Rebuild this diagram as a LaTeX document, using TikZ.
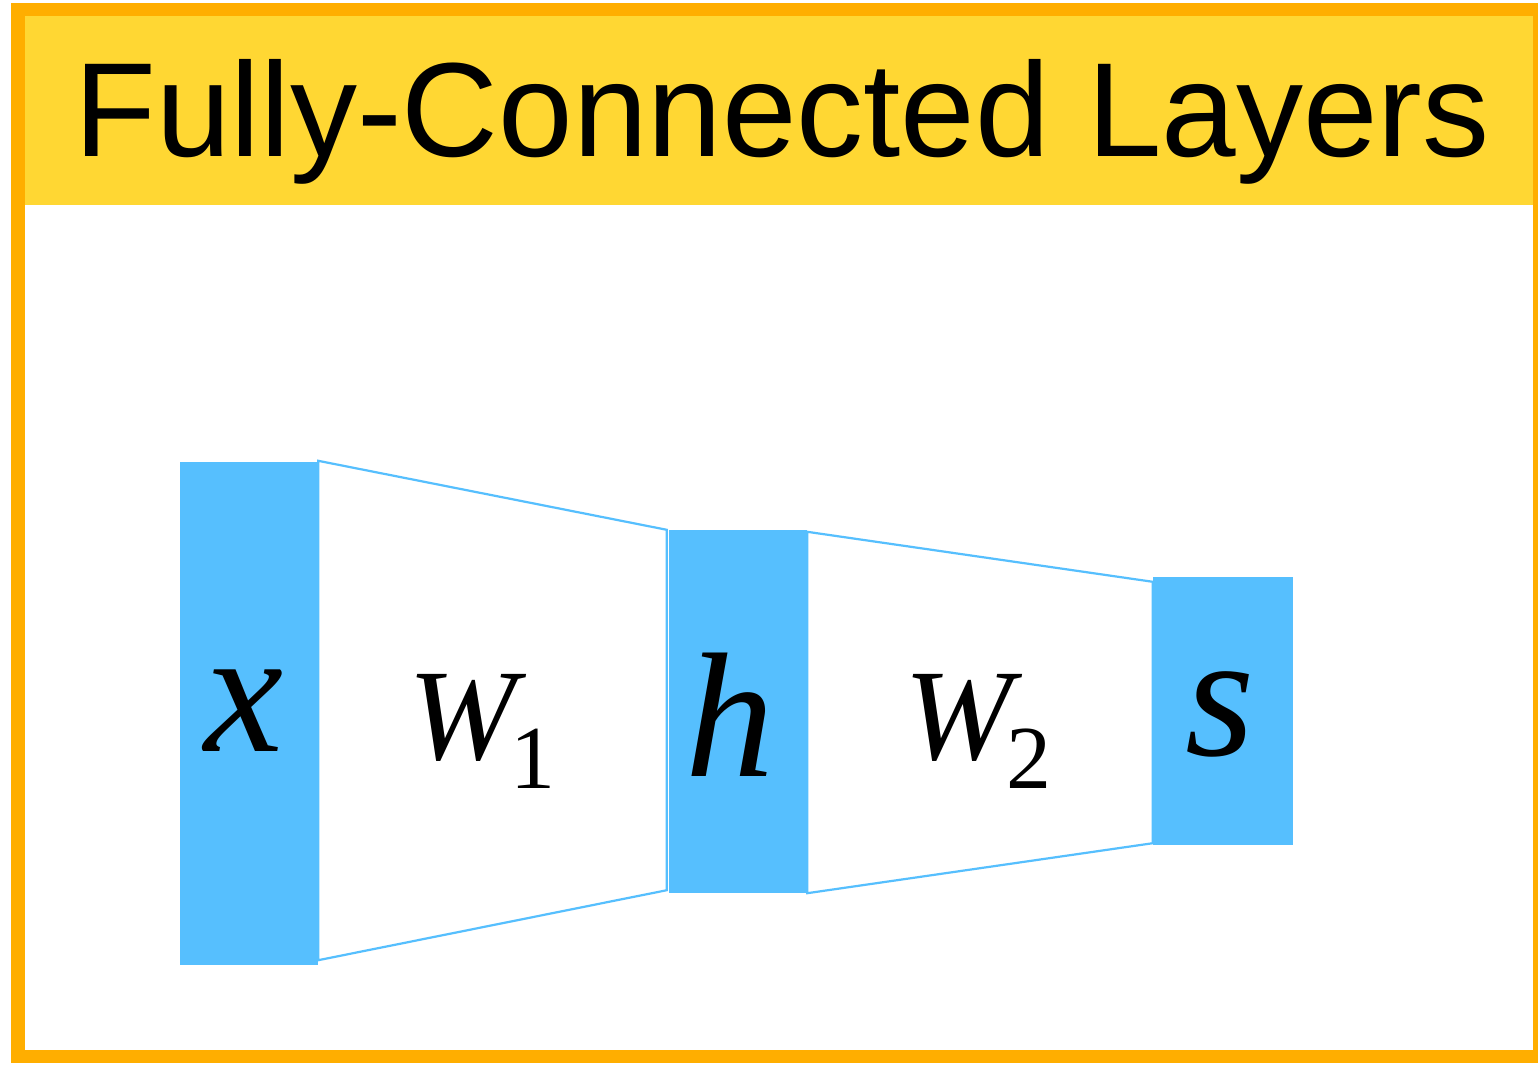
\documentclass[tikz,border=0pt]{standalone}
\usepackage{fontspec}
\setmainfont{Liberation Serif}
\newfontfamily\titlefont{Liberation Sans}
\definecolor{frameorange}{RGB}{255,174,0}
\definecolor{headyellow}{RGB}{255,215,51}
\definecolor{layerblue}{RGB}{86,191,254}
\newcommand{\subdigit}[1]{\raisebox{-29pt}{\fontsize{90}{90}\selectfont\upshape #1}}
\begin{document}
\begin{tikzpicture}[x=1pt,y=-1pt,
  layerbox/.style={fill=layerblue, draw=none, inner sep=0pt},
  trap/.style={draw=layerblue, line width=2.2pt, line join=miter},
  biglab/.style={inner sep=0pt, font=\fontsize{178}{178}\selectfont\itshape},
  wlab/.style={inner sep=0pt, font=\fontsize{130}{130}\selectfont\itshape}]
\useasboundingbox (0,0) rectangle (1538,1067);
\fill[white] (0,0) rectangle (1538,1067);
% header
\fill[headyellow] (18,9.5) rectangle (1540,205);
\node[anchor=base, inner sep=0pt, font=\titlefont\fontsize{134}{134}\selectfont] (title) at (782,157) {Fully-Connected Layers};
% frame
\draw[frameorange, line width=13.5pt] (18,9.5) rectangle (1540,1056.5);
% layers
\node[layerbox, minimum width=138pt, minimum height=503pt] (x) at (249,713.5) {};
\node[layerbox, minimum width=138pt, minimum height=363pt] (h) at (738,711.5) {};
\node[layerbox, minimum width=140pt, minimum height=268pt] (s) at (1223,711) {};
% connections
\draw[trap] ([yshift=1pt]x.north east) -- ([xshift=-2pt]h.north west) -- ([xshift=-2pt,yshift=3pt]h.south west) -- ([yshift=5pt]x.south east) -- cycle;
\draw[trap] ([yshift=-2pt]h.north east) -- ([yshift=-5pt]s.north west) -- ([yshift=2pt]s.south west) -- (h.south east) -- cycle;
% labels
\node[biglab, anchor=base] (lx) at (244,751) {x};
\node[biglab, anchor=base] (lh) at (730,776) {h};
\node[biglab, anchor=base] (ls) at (1220,755) {s};
\node[wlab, anchor=base west] (w1) at (408,759) {W\kern-6pt\subdigit{1}};
\node[wlab, anchor=base west] (w2) at (904,759) {W\kern-6pt\subdigit{2}};
\end{tikzpicture}
\end{document}
